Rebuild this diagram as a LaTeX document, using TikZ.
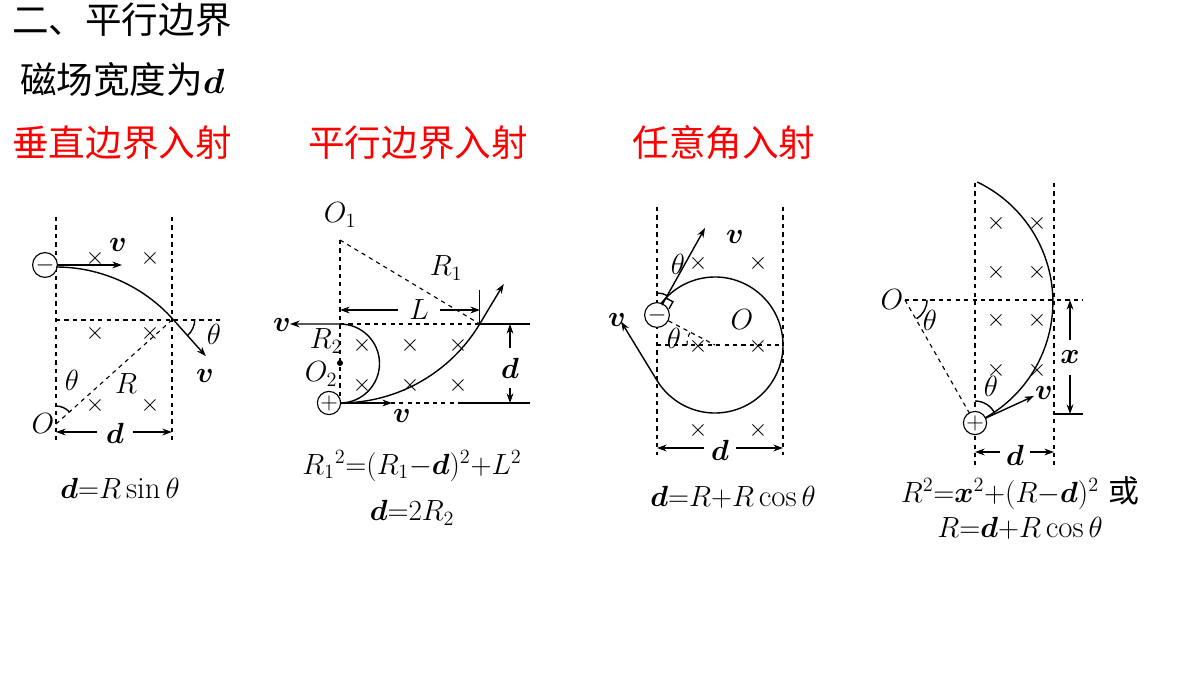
\documentclass[tikz,border=0pt]{standalone}
\usepackage{amsmath}
\usepackage{bm}
\usepackage{fontspec}
\newfontfamily\cjk{Noto Sans CJK SC}
\usetikzlibrary{arrows.meta, calc}
\definecolor{headred}{HTML}{FF0000}
\tikzset{
  bound/.style={dashed, line width=0.8pt},
  traj/.style={line width=1pt},
  lbl/.style={inner sep=1pt, font=\fontsize{22}{24}\selectfont},
  eqn/.style={inner sep=0pt, font=\fontsize{22}{26}\selectfont},
  cross/.style={inner sep=0pt, font=\fontsize{19}{20}\selectfont},
  head/.style={inner sep=0pt, font=\fontsize{26}{30}\selectfont\cjk},
  charge/.style={circle, draw, line width=0.8pt, minimum size=0.55cm, inner sep=0pt, fill=white, font=\fontsize{16}{16}\selectfont}
}
\begin{document}
\begin{tikzpicture}[x=0.025cm, y=0.025cm, >={Stealth[length=2.4mm, width=1.7mm]}]
\useasboundingbox (0,0) rectangle (1200,-675);
% headings
\node[head, anchor=west] (title) at (12,-20) {二、平行边界};
\node[head, anchor=west] (sub) at (20,-80) {磁场宽度为$\bm{d}$};
\node[head, text=headred] (h1) at (122,-143) {垂直边界入射};
\node[head, text=headred] (h2) at (418,-143) {平行边界入射};
\node[head, text=headred] (h3) at (724,-143) {任意角入射};

% ---- diagram 1
\draw[bound] (56,-217) -- (56,-440);
\draw[bound] (172,-217) -- (172,-440);
\draw[bound] (56,-320) -- (220,-320);
\foreach \x in {95,150} \foreach \y in {-258,-333,-405} \node[cross] at (\x,\y) {$\times$};
\coordinate (Oa) at (56,-424);
\node[charge] (ea) at (45,-265) {$-$};
\draw[traj, ->] (ea.east) -- (122,-265);
\node[lbl] (va) at (118,-245) {$\bm{v}$};
\draw[traj, ->] (56,-267) arc[start angle=90, end angle=41.9, radius=157] coordinate (Xa) -- ++(33,-37);
\node[lbl] (vb) at (205,-376) {$\bm{v}$};
\draw[bound] (Oa) -- (Xa);
\draw[traj] ($(Xa)+(22,0)$) arc[start angle=0, end angle=-48, radius=22];
\node[lbl] (tha) at (214,-334) {$\theta$};
\draw[traj] (56,-406) arc[start angle=90, end angle=41.9, radius=18];
\node[lbl] (thb) at (72,-380) {$\theta$};
\node[lbl] (Ra) at (126,-384) {$R$};
\node[lbl, anchor=east] (Olab) at (Oa) {$O$};
\draw[traj, <-] (56,-432) -- (97,-432);
\draw[traj, ->] (133,-432) -- (172,-432);
\node[lbl] (da) at (115,-433) {$\bm{d}$};
\node[eqn] (eqa) at (120,-488) {$\bm{d}{=}R\sin\theta$};

% ---- diagram 2
\coordinate (O1) at (340,-240);
\node[lbl] (O1lab) at (340,-215) {$O_1$};
\draw[bound] (O1) -- (340,-403);
\draw[bound] (340,-324) -- (480,-324);
\draw[traj] (480,-324) -- (530,-324);
\draw[bound] (340,-403) -- (462,-403);
\draw[traj] (462,-403) -- (530,-403);
\foreach \x in {362,410,458} \foreach \y in {-345,-385} \node[cross] at (\x,\y) {$\times$};
\draw[traj, ->] (340,-403) arc[start angle=-90, end angle=-31, radius=163] coordinate (Xb) -- ++(24,40);
\draw[bound] (O1) -- (Xb);
\node[lbl] (R1) at (446,-268) {$R_1$};
\draw[traj] (Xb) -- ++(0,34);
\draw[traj, <-] (340,-310) -- (398,-310);
\draw[traj, ->] (440,-310) -- (480,-310);
\node[lbl] (Llab) at (419,-310) {$L$};
\draw[traj, ->] (340,-403) arc[start angle=-90, end angle=90, radius=39.5] -- (290,-324);
\node[lbl] (vc) at (282,-325) {$\bm{v}$};
\fill (340,-363) circle[radius=3];
\node[lbl] (R2) at (326,-341) {$R_2$};
\node[lbl] (O2) at (321,-374) {$O_2$};
\node[charge] (pb) at (329,-403) {$+$};
\draw[traj, ->] (pb.east) -- (392,-403);
\node[lbl] (vd) at (402,-416) {$\bm{v}$};
\draw[traj, ->] (510,-348) -- (510,-324);
\draw[traj, ->] (510,-388) -- (510,-403);
\node[lbl] (db) at (510,-368) {$\bm{d}$};
\node[eqn] (eqb1) at (412,-466) {$R_1{}^2{=}(R_1{-}\bm{d})^2{+}L^2$};
\node[eqn] (eqb2) at (412,-513) {$\bm{d}{=}2R_2$};

% ---- diagram 3
\draw[bound] (657,-207) -- (657,-455);
\draw[bound] (783,-207) -- (783,-455);
\coordinate (C3) at (715,-345);
\draw[bound] (657,-345) -- (783,-345);
\foreach \x in {698,758} \foreach \y in {-263,-346,-430} \node[cross] at (\x,\y) {$\times$};
\draw[traj, ->] (C3) ++(147:68) arc[start angle=147, end angle=-148.5, radius=68] -- ++(-36,59);
\node[lbl] (ve) at (617,-320) {$\bm{v}$};
\node[charge] (ec) at (657,-315) {$-$};
\coordinate (Bc) at (662,-305);
\draw[traj, ->] (Bc) -- (705,-228);
\node[lbl] (vf) at (735,-237) {$\bm{v}$};
\draw[traj] ($(Bc)+(7.1,-3.7)$) -- ++(3.8,7) -- ++(-7.1,3.7);
\draw[traj] (657,-293) arc[start angle=90, end angle=61.6, radius=22];
\node[lbl] (thc) at (678,-264) {$\theta$};
\draw[bound] (ec) -- (C3);
\draw[bound] ($(C3)+(-28,0)$) arc[start angle=180, end angle=152.6, radius=28];
\node[lbl] (thd) at (674,-338) {$\theta$};
\node[lbl] (Oc) at (742,-320) {$O$};
\draw[traj, <-] (657,-448) -- (704,-448);
\draw[traj, ->] (736,-448) -- (783,-448);
\node[lbl] (dc) at (720,-450) {$\bm{d}$};
\node[eqn] (eqc) at (733,-497) {$\bm{d}{=}R{+}R\cos\theta$};

% ---- diagram 4
\draw[bound] (975,-183) -- (975,-465);
\draw[bound] (1054,-183) -- (1054,-465);
\coordinate (Od) at (905,-300);
\node[lbl, anchor=east] (Odlab) at (Od) {$O$};
\draw[bound] (Od) -- (1083,-300);
\foreach \x in {996,1037} \foreach \y in {-223,-272,-320,-370} \node[cross] at (\x,\y) {$\times$};
\coordinate (Pd) at (975,-423);
\draw[traj] (Pd) arc[start angle=-65.5, end angle=64.4, radius=133];
\draw[bound] (Od) -- (Pd);
\draw[traj] ($(Od)+(22,0)$) arc[start angle=0, end angle=-58.6, radius=22];
\node[lbl] (the) at (930,-320) {$\theta$};
\draw[traj, ->] (Pd) -- ++(59,27);
\node[lbl] (vg) at (1044,-393) {$\bm{v}$};
\draw[traj] ($(Pd)+(0,22)$) arc[start angle=90, end angle=24.5, radius=22];
\node[lbl] (thf) at (991,-386) {$\theta$};
\node[charge] (pd) at (Pd) {$+$};
\draw[traj, ->] (1070,-340) -- (1070,-300);
\draw[traj, ->] (1070,-375) -- (1070,-414);
\draw[traj] (1054,-414) -- (1083,-414);
\node[lbl] (xd) at (1070,-357) {$\bm{x}$};
\draw[traj, <-] (975,-452) -- (1000,-452);
\draw[traj, ->] (1030,-452) -- (1054,-452);
\node[lbl] (dd) at (1015,-455) {$\bm{d}$};
\node[eqn] (eqd1) at (1020,-493) {$R^2{=}\bm{x}^2{+}(R{-}\bm{d})^2$ {\cjk 或}};
\node[eqn] (eqd2) at (1020,-528) {$R{=}\bm{d}{+}R\cos\theta$};
\end{tikzpicture}
\end{document}
